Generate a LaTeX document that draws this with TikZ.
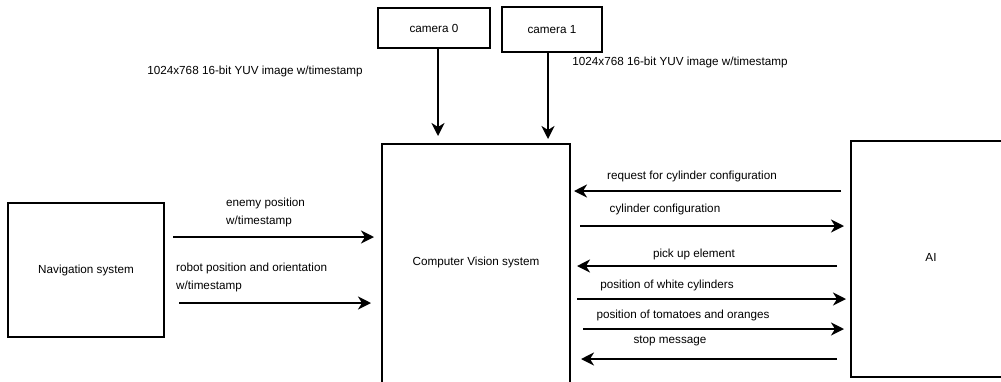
\documentclass[tikz,border=0pt]{standalone}
\usepackage{fontspec}
\setmainfont{Liberation Sans}
\usetikzlibrary{arrows.meta}
\begin{document}
\begin{tikzpicture}[x=1pt,y=-1pt,
  box/.style={draw, line width=2pt, rectangle, inner sep=0pt,
    font=\fontsize{11.7}{18}\selectfont},
  lbl/.style={font=\fontsize{11.7}{18}\selectfont, inner sep=0pt},
  arr/.style={line width=2pt, -{Stealth[length=13pt,width=13pt,inset=4pt]}}]
\useasboundingbox (0,0) rectangle (1001,381);
\clip (0,0) rectangle (1001,381);
\fill[white] (0,0) rectangle (1001,381);

% blocks
\node[box, minimum width=112pt, minimum height=40pt] (cam0) at (434,28) {camera 0};
\node[box, minimum width=100pt, minimum height=45pt] (cam1) at (552,29.5) {camera 1};
\node[box, minimum width=156pt, minimum height=134pt] (nav) at (86,270) {Navigation system};
\node[box, minimum width=188pt, minimum height=270pt] (cv) at (476,279) {};
\node[lbl] (cvtext) at (476,262) {Computer Vision system};
\node[box, minimum width=180pt, minimum height=236pt] (ai) at (941,259) {};
\node[lbl] (aitext) at (931,257) {AI};

% camera feeds
\node[lbl] (feed0) at (255,71) {1024x768 16-bit YUV image w/timestamp};
\node[lbl] (feed1) at (680,62) {1024x768 16-bit YUV image w/timestamp};
\coordinate (c0) at (438,0);
\coordinate (c1) at (548,0);
\draw[arr, shorten >=7pt] (cam0.south -| c0) -- (cv.north -| c0);
\draw[arr, shorten >=4pt] (cam1.south -| c1) -- (cv.north -| c1);

% navigation to vision
\coordinate (l1) at (0,237);
\coordinate (l2) at (0,303);
\node[lbl, anchor=west, align=left] (enemy) at (226,212) {enemy position\\w/timestamp};
\node[lbl, anchor=west, align=left] (robot) at (176,277) {robot position and orientation\\w/timestamp};
\draw[arr, shorten <=8pt, shorten >=7pt] (nav.east |- l1) -- (cv.west |- l1);
\draw[arr, shorten <=14pt, shorten >=10pt] (nav.east |- l2) -- (cv.west |- l2);

% vision <-> AI
\coordinate (r1) at (0,191);
\coordinate (r2) at (0,226);
\coordinate (r3) at (0,266);
\coordinate (r4) at (0,299);
\coordinate (r5) at (0,329);
\coordinate (r6) at (0,359);
\node[lbl] (req) at (692,176) {request for cylinder configuration};
\node[lbl] (conf) at (665,209) {cylinder configuration};
\node[lbl] (pick) at (694,254) {pick up element};
\node[lbl] (white) at (667,285) {position of white cylinders};
\node[lbl] (tom) at (683,315) {position of tomatoes and oranges};
\node[lbl] (stop) at (670,341) {stop message};
\draw[arr, shorten <=9pt, shorten >=3pt] (ai.west |- r1) -- (cv.east |- r1);
\draw[arr, shorten <=9pt, shorten >=6pt] (cv.east |- r2) -- (ai.west |- r2);
\draw[arr, shorten <=13pt, shorten >=6pt] (ai.west |- r3) -- (cv.east |- r3);
\draw[arr, shorten <=6pt, shorten >=4pt] (cv.east |- r4) -- (ai.west |- r4);
\draw[arr, shorten <=12pt, shorten >=6pt] (cv.east |- r5) -- (ai.west |- r5);
\draw[arr, shorten <=13pt, shorten >=10pt] (ai.west |- r6) -- (cv.east |- r6);
\end{tikzpicture}
\end{document}
